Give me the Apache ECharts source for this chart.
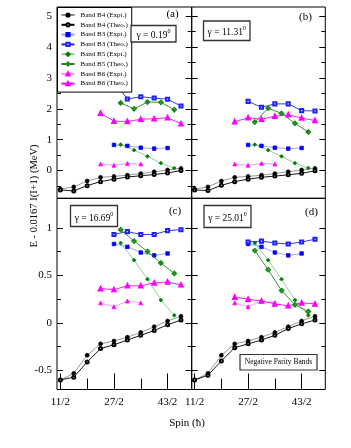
<!DOCTYPE html>
<html lang="en">
<head>
<meta charset="UTF-8">
<title>Negative parity bands</title>
<style>
  html, body { margin: 0; padding: 0; background: #fff; }
  #chart { width: 351px; height: 448px; }
</style>
</head>
<body>
<div id="chart"></div>
<script src="https://cdn.jsdelivr.net/npm/echarts@6/dist/echarts.min.js"></script>
<script>
  // spins (hbar) of each band
  const spinB4 = [5.5, 7.5, 9.5, 11.5, 13.5, 15.5, 17.5, 19.5, 21.5, 23.5]
  const spinB3Expt = [13.5, 15.5, 17.5, 19.5, 21.5]
  const spinB3Theo = [13.5, 15.5, 17.5, 19.5, 21.5, 23.5]
  const spinB5 = [14.5, 16.5, 18.5, 20.5, 22.5]
  const spinB6Expt = [11.5, 13.5, 15.5, 17.5]
  const spinB6Theo = [11.5, 13.5, 15.5, 17.5, 19.5, 21.5, 23.5]

  // experiment (same in every panel)
  const b4Expt = [-0.60, -0.53, -0.34, -0.22, -0.19, -0.15, -0.10, -0.04, 0.02, 0.07]
  const b3Expt = [0.83, 0.80, 0.74, 0.71, 0.73]
  const b5Expt = [0.84, 0.66, 0.46, 0.24, 0.08]
  const b6Expt = [0.21, 0.17, 0.23, 0.21]

  // theory, one array per panel (a) (b) (c) (d)
  const b4TheoA = [-0.63, -0.66, -0.49, -0.36, -0.28, -0.21, -0.17, -0.13, -0.08, 0.00]
  const b4TheoB = [-0.63, -0.65, -0.48, -0.36, -0.28, -0.22, -0.18, -0.14, -0.09, -0.01]
  const b4TheoC = [-0.60, -0.57, -0.41, -0.27, -0.23, -0.18, -0.13, -0.08, -0.02, 0.03]
  const b4TheoD = [-0.60, -0.55, -0.40, -0.26, -0.22, -0.18, -0.13, -0.06, -0.01, 0.03]
  const b3TheoA = [2.86, 2.32, 2.39, 2.35, 2.31, 2.09]
  const b3TheoB = [2.24, 2.05, 2.16, 2.16, 1.94, 1.93]
  const b3TheoC = [0.93, 0.96, 0.93, 0.93, 0.97, 0.98]
  const b3TheoD = [0.85, 0.86, 0.84, 0.83, 0.85, 0.88]
  const b5TheoA = [2.19, 2.00, 2.22, 2.21, 1.97]
  const b5TheoB = [1.57, 2.02, 1.85, 1.53, 1.25]
  const b5TheoC = [0.98, 0.86, 0.75, 0.63, 0.52]
  const b5TheoD = [0.76, 0.56, 0.34, 0.19, 0.12]
  const b6TheoA = [1.86, 1.60, 1.59, 1.66, 1.68, 1.71, 1.52]
  const b6TheoB = [1.58, 1.71, 1.66, 1.76, 1.81, 1.70, 1.62]
  const b6TheoC = [0.36, 0.35, 0.39, 0.39, 0.42, 0.43, 0.40]
  const b6TheoD = [0.27, 0.25, 0.23, 0.20, 0.18, 0.21, 0.20]

  const gammaVals = ['0.19', '11.31', '16.69', '25.01']
  const panelTags = ['(a)', '(b)', '(c)', '(d)']
  const xTickVals = [5.5, 13.5, 21.5]
  const xMinorVals = [9.5, 17.5]
  const yTopVals = [0, 1, 2, 3, 4, 5]
  const yTopMinor = [-0.5, 0.5, 1.5, 2.5, 3.5, 4.5]
  const yBotVals = [-0.5, 0, 0.5, 1]
  const yBotMinor = [-0.25, 0.25, 0.75]

  const SERIF = 'Liberation Serif'
  const chart = echarts.init(document.getElementById('chart'))

  const grids = [
    { left: 57, top: 7, width: 134.7, height: 191.3 },
    { left: 191.7, top: 7, width: 133.6, height: 191.3 },
    { left: 57, top: 198.3, width: 134.7, height: 191.2 },
    { left: 191.7, top: 198.3, width: 133.6, height: 191.2 }
  ].map(g => Object.assign(g, { show: true, borderColor: '#000', borderWidth: 1, containLabel: false }))

  const xRange = [[5.0, 25.1], [5.07, 25.04], [5.0, 25.1], [5.07, 25.04]]
  const yRange = [[-0.9, 5.3], [-0.9, 5.3], [-0.7, 1.31], [-0.7, 1.31]]

  let xAxes = []
  let yAxes = []
  for (let gi = 0; gi < 4; gi++) {
    let bottom = gi >= 2
    let base = {
      type: 'value', gridIndex: gi, position: 'bottom', min: xRange[gi][0], max: xRange[gi][1],
      axisLine: { show: false, onZero: false }, splitLine: { show: false }
    }
    xAxes.push(Object.assign({}, base, {
      axisTick: { show: bottom, inside: true, length: 16, customValues: xTickVals, lineStyle: { color: '#000' } },
      axisLabel: {
        show: bottom, customValues: xTickVals, margin: 7, fontSize: 11, fontFamily: SERIF, color: '#000',
        formatter: v => Math.round(v * 2) + '/2'
      }
    }))
    xAxes.push(Object.assign({}, base, {
      axisTick: { show: bottom, inside: true, length: 11, customValues: xMinorVals, lineStyle: { color: '#000' } },
      axisLabel: { show: false }
    }))

    let major = bottom ? yBotVals : yTopVals
    let minor = bottom ? yBotMinor : yTopMinor
    let leftCol = gi % 2 === 0
    ;['left', 'right'].forEach(pos => {
      let yb = {
        type: 'value', gridIndex: gi, position: pos, min: yRange[gi][0], max: yRange[gi][1],
        axisLine: { show: false, onZero: false }, splitLine: { show: false }
      }
      yAxes.push(Object.assign({}, yb, {
        axisTick: { inside: true, length: 6, customValues: major, lineStyle: { color: '#000' } },
        axisLabel: {
          show: leftCol && pos === 'left', customValues: major, margin: 5,
          fontSize: 11, fontFamily: SERIF, color: '#000'
        }
      }))
      yAxes.push(Object.assign({}, yb, {
        axisTick: { inside: true, length: 4, customValues: minor, lineStyle: { color: '#000' } },
        axisLabel: { show: false }
      }))
    })
  }

  // band styles
  const styles = {
    b4e: { name: 'Band B4 (Expt.)', symbol: 'circle', size: 3.8, color: '#000', line: '#8c8c8c' },
    b4t: { name: 'Band B4 (Theo.)', symbol: 'emptyCircle', size: 3, color: '#000', line: '#000' },
    b3e: { name: 'Band B3 (Expt.)', symbol: 'rect', size: 3.5, color: '#0000ff', line: '#9a9aff' },
    b3t: { name: 'Band B3 (Theo.)', symbol: 'emptyRect', size: 3.1, color: '#2020ff', line: '#2020ff' },
    b5e: { name: 'Band B5 (Expt.)', symbol: 'diamond', size: 3.8, color: '#008000', line: '#88c888' },
    b5t: { name: 'Band B5 (Theo.)', symbol: 'emptyDiamond', size: 3.5, color: '#1a8c1a', line: '#1a8c1a' },
    b6e: { name: 'Band B6 (Expt.)', symbol: 'triangle', size: 3.8, color: '#ff00ff', line: '#ff8cff' },
    b6t: { name: 'Band B6 (Theo.)', symbol: 'emptyTriangle', size: 3.5, color: '#ff00ff', line: '#ff00ff' }
  }

  const panels = [
    [b4TheoA, b3TheoA, b5TheoA, b6TheoA],
    [b4TheoB, b3TheoB, b5TheoB, b6TheoB],
    [b4TheoC, b3TheoC, b5TheoC, b6TheoC],
    [b4TheoD, b3TheoD, b5TheoD, b6TheoD]
  ]

  function mk(key, gi, spins, vals) {
    let s = styles[key]
    return {
      name: s.name, type: 'line', xAxisIndex: gi * 2, yAxisIndex: gi * 4,
      data: spins.map((x, i) => [x, vals[i]]),
      symbol: s.symbol, symbolSize: s.size, showSymbol: true,
      itemStyle: { color: s.color, borderColor: s.color, borderWidth: 0.8 },
      lineStyle: { color: s.line, width: 0.9 },
      emphasis: { disabled: true }, z: key.endsWith('t') ? 3 : 2
    }
  }

  let series = []
  panels.forEach((p, gi) => {
    series.push(mk('b4e', gi, spinB4, b4Expt))
    series.push(mk('b4t', gi, spinB4, p[0]))
    series.push(mk('b3e', gi, spinB3Expt, b3Expt))
    series.push(mk('b3t', gi, spinB3Theo, p[1]))
    series.push(mk('b5e', gi, spinB5, b5Expt))
    series.push(mk('b5t', gi, spinB5, p[2]))
    series.push(mk('b6e', gi, spinB6Expt, b6Expt))
    series.push(mk('b6t', gi, spinB6Theo, p[3]))
  })

  // boxes and tags
  const gammaPos = [[131, 25.5, 45, 16.5], [203.5, 21, 46.5, 19.5], [70.5, 205.5, 47, 21], [204, 205.5, 47, 22]]
  const tagPos = [[172.5, 14], [305.5, 17], [175, 211], [311.5, 212]]
  let graphic = []
  gammaPos.forEach((b, i) => {
    graphic.push({ type: 'rect', shape: { x: b[0], y: b[1], width: b[2], height: b[3] },
      style: { fill: '#fff', stroke: '#333', lineWidth: 1.3 }, z: 10 })
    graphic.push({ type: 'text', x: b[0] + b[2] / 2, y: b[1] + b[3] / 2 + 1, z: 11,
      style: {
        text: '{t|γ = ' + gammaVals[i] + '}{s|0}', align: 'center', verticalAlign: 'middle',
        rich: {
          t: { fontSize: 9.5, fontFamily: SERIF, fill: '#000', lineHeight: 12, verticalAlign: 'bottom' },
          s: { fontSize: 6, fontFamily: SERIF, fill: '#000', lineHeight: 12, verticalAlign: 'top' }
        }
      } })
    graphic.push({ type: 'text', x: tagPos[i][0], y: tagPos[i][1], z: 11,
      style: { text: panelTags[i], font: '11px ' + SERIF, fill: '#000', align: 'center', verticalAlign: 'middle' } })
  })
  graphic.push({ type: 'rect', shape: { x: 240, y: 354.5, width: 77, height: 15.5 },
    style: { fill: '#fff', stroke: '#333', lineWidth: 1.2 }, z: 10 })
  graphic.push({ type: 'text', x: 278.5, y: 362.5, z: 11,
    style: { text: 'Negative Parity Bands', font: '7.5px ' + SERIF, fill: '#000', align: 'center', verticalAlign: 'middle' } })
  graphic.push({ type: 'text', x: 34, y: 196, rotation: Math.PI / 2, z: 11,
    style: { text: 'E - 0.0167 I(I+1) (MeV)', font: '10.5px ' + SERIF, fill: '#000', align: 'center', verticalAlign: 'middle' } })
  graphic.push({ type: 'text', x: 187, y: 423, z: 11,
    style: { text: 'Spin (ħ)', font: '11px ' + SERIF, fill: '#000', align: 'center', verticalAlign: 'middle' } })

  chart.setOption({
    animation: false,
    backgroundColor: '#fff',
    grid: grids,
    xAxis: xAxes,
    yAxis: yAxes,
    legend: {
      left: 57.5, top: 7.5, orient: 'vertical', itemGap: 2.8, itemWidth: 13, itemHeight: 4,
      padding: [4, 4, 5, 3], backgroundColor: '#fff', borderColor: '#000', borderWidth: 1,
      textStyle: { fontSize: 7, fontFamily: SERIF, color: '#000', padding: [0, 0, 0, 1] },
      data: Object.values(styles).map(s => s.name), z: 5
    },
    graphic: graphic,
    series: series
  })
</script>
</body>
</html>
